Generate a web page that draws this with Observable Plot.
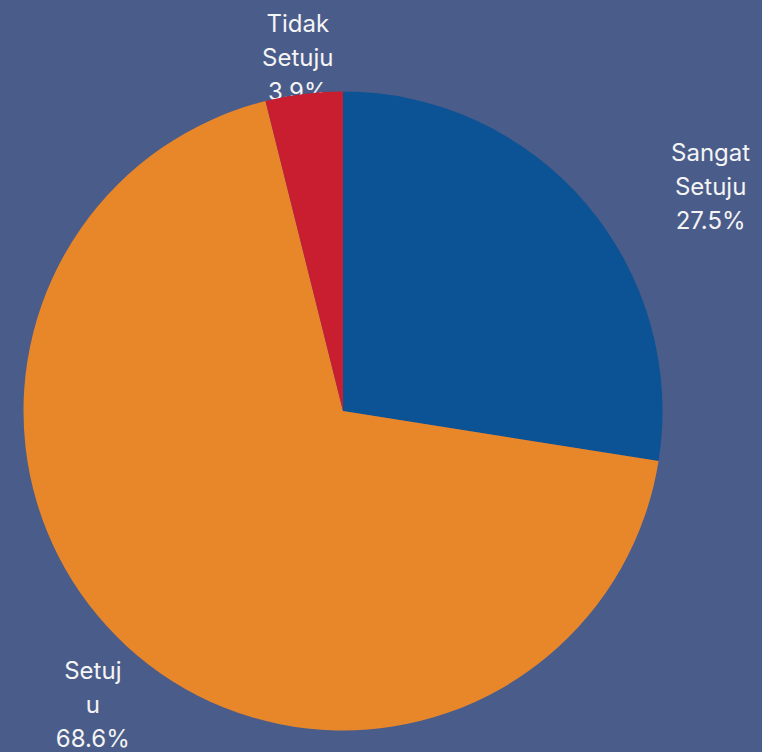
<!DOCTYPE html>
<html>
<head>
<meta charset="utf-8">
<script src="https://cdn.jsdelivr.net/npm/d3@7"></script>
<script src="https://cdn.jsdelivr.net/npm/@observablehq/plot@0.6"></script>
<style>
  html, body { margin: 0; padding: 0; background: #4a5c8a; }
  #chart { width: 762px; height: 752px; overflow: hidden; }
</style>
</head>
<body>
<div id="chart"></div>
<script>
// Data
const categories = ["Sangat Setuju", "Setuju", "Tidak Setuju"];
const labelTexts = ["Sangat\nSetuju", "Setuj\nu", "Tidak\nSetuju"];
const values = [27.5, 68.6, 3.9];
const colors = ["#0b5394", "#e8872a", "#c81e30"];

const W = 762, H = 752;
const cx = 343, cy = 411, R = 319.5;
// label nudges (layout, px)
const nudges = [[95, 5], [-9, 27], [-2, -1]];

const pie = d3.pie().sort(null).value(d => d.value)(
  categories.map((c, i) => ({ category: c, value: values[i], color: colors[i], label: labelTexts[i] }))
);
const total = d3.sum(values);

const labels = pie.map((p, i) => {
  const a = (p.startAngle + p.endAngle) / 2;
  const r = R * 1.12;
  return {
    x: cx + r * Math.sin(a) + nudges[i][0],
    y: cy - r * Math.cos(a) + nudges[i][1],
    text: p.data.label + "\n" + (p.data.value / total * 100).toFixed(1) + "%"
  };
});

const pieMark = (index, scales) => {
  const g = d3.create("svg:g");
  const arc = d3.arc().innerRadius(0).outerRadius(R);
  g.attr("transform", `translate(${scales.x(cx)},${scales.y(cy)})`);
  g.selectAll("path").data(pie).join("path")
    .attr("d", arc)
    .attr("fill", d => d.data.color);
  return g.node();
};

const chart = Plot.plot({
  width: W,
  height: H,
  margin: 0,
  style: { background: "#4a5c8a", fontFamily: "Inter, 'Noto Sans', sans-serif" },
  x: { domain: [0, W], range: [0, W], axis: null },
  y: { domain: [0, H], range: [0, H], axis: null },
  marks: [
    Plot.text(labels, {
      x: "x", y: "y", text: "text",
      fill: "#f4f4f4",
      fontSize: 24,
      lineHeight: 1.42,
      textAnchor: "middle"
    }),
    pieMark
  ]
});
document.getElementById("chart").append(chart);
</script>
</body>
</html>
